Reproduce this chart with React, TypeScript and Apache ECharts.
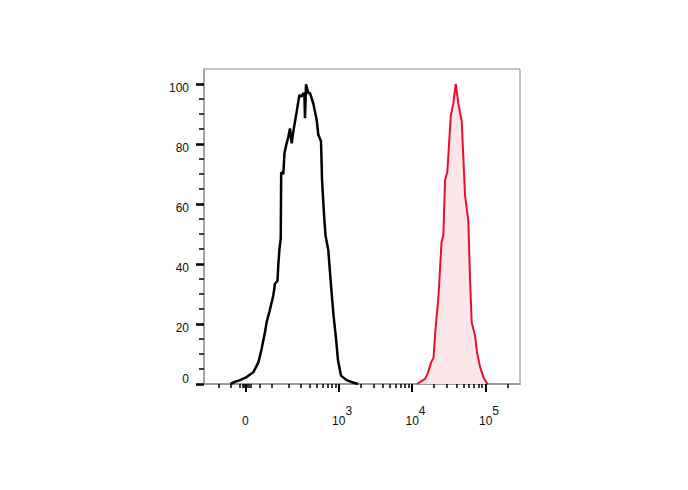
import React, { useEffect, useRef } from "react";
import * as echarts from "echarts";

// Biexponential display: value -> display decades
const BIEX_WIDTH = 54;
const toDisplay = (v: number) =>
  Math.log10(BIEX_WIDTH) + Math.asinh(v / (2 * BIEX_WIDTH)) / Math.LN10;

// x axis ticks in fluorescence units
const xMajorValues = [0, 1000, 10000, 100000];
const xMajorExponents: (number | null)[] = [null, 3, 4, 5];
const xMinorValues = [
  -100, -50, -20, -10, -5, 5, 10, 20, 50, 100, 200, 300, 400, 500, 600, 700, 800, 900,
  2000, 3000, 4000, 5000, 6000, 7000, 8000, 9000,
  20000, 30000, 40000, 50000, 60000, 70000, 80000, 90000, 200000,
];
const yMajorValues = [0, 20, 40, 60, 80, 100];
const yMinorValues = [5, 10, 15, 25, 30, 35, 45, 50, 55, 65, 70, 75, 85, 90, 95];

// Histograms: x in display decades, y in % of max
const blackX = [
  1.53, 1.59, 1.66, 1.75, 1.84, 1.91, 1.955, 2.0, 2.023, 2.059, 2.113, 2.136,
  2.17, 2.181, 2.195, 2.214, 2.22, 2.249, 2.265, 2.295, 2.317, 2.34, 2.363,
  2.385, 2.431, 2.467, 2.499, 2.521, 2.536, 2.544, 2.558, 2.589, 2.612, 2.657,
  2.703, 2.725, 2.762, 2.776, 2.803, 2.823, 2.861, 2.898, 2.932, 2.966, 2.993,
  3.034, 3.109, 3.197, 3.265,
];
const blackY = [
  0, 0.7, 1.3, 2.3, 3.9, 7.2, 11.8, 17.3, 20.7, 24.0, 29.5, 33.5, 34.4, 39.6,
  44.6, 48.5, 70.6, 70.0, 77.0, 80.3, 82.3, 85.2, 80.2, 84.1, 90.8, 96.3, 95.8,
  97.0, 96.0, 88.6, 99.9, 96.9, 97.0, 93.5, 88.0, 83.1, 80.9, 67.9, 56.3, 49.6,
  44.6, 32.9, 22.9, 15.2, 7.8, 2.8, 1.3, 0.5, 0,
];
const redX = [
  4.068, 4.109, 4.177, 4.218, 4.259, 4.293, 4.32, 4.361, 4.401, 4.426, 4.449,
  4.48, 4.527, 4.562, 4.595, 4.63, 4.676, 4.721, 4.766, 4.789, 4.812, 4.857,
  4.884, 4.925, 4.97, 5.016, 5.034,
];
const redY = [
  0, 0.6, 1.7, 3.8, 7.2, 8.8, 18.5, 29.5, 47.2, 49.6, 67.9, 70.6, 89.3, 93.6,
  100, 93.6, 87.6, 63.1, 54.3, 35.2, 20.5, 16.2, 10.5, 5.8, 2.3, 0.3, 0,
];

const X_MIN = 1.17;
const X_MAX = 5.469;
const FONT = "'Liberation Sans', Arial, sans-serif";

export default function App() {
  const ref = useRef<HTMLDivElement>(null);
  useEffect(() => {
    if (!ref.current) return;
    const chart = echarts.init(ref.current, undefined, { renderer: "svg" });
    const majorDisp = xMajorValues.map(toDisplay);
    const minorDisp = xMinorValues.map(toDisplay).filter((d) => d > X_MIN && d < X_MAX);
    chart.setOption({
      animation: false,
      backgroundColor: "#ffffff",
      grid: {
        left: 204,
        right: 168,
        top: 69,
        bottom: 106,
        show: true,
        borderColor: "#8a8a8a",
        borderWidth: 1,
      },
      xAxis: [
        {
          type: "value",
          min: X_MIN,
          max: X_MAX,
          position: "bottom",
          offset: 0,
          splitLine: { show: false },
          axisLine: { show: true, onZero: false, lineStyle: { color: "#9a9a9a", width: 2 } },
          axisTick: {
            show: true,
            customValues: majorDisp,
            length: 8,
            lineStyle: { color: "#000", width: 2 },
          },
          axisLabel: {
            show: true,
            customValues: majorDisp,
            margin: 26,
            color: "#111",
            fontFamily: FONT,
            formatter: (val: number) => {
              const i = majorDisp.findIndex((d) => Math.abs(d - val) < 1e-6);
              const e = i >= 0 ? xMajorExponents[i] : null;
              if (e === null) return "{b|0}";
              return "{s|}{b|10}{sup|" + e + "}";
            },
            rich: {
              s: { width: 7, height: 12 },
              b: { fontSize: 12, lineHeight: 12, padding: [10, 0, 0, 0], fontFamily: FONT, color: "#111" },
              sup: { fontSize: 12, lineHeight: 12, padding: [0, 0, 10, 0], fontFamily: FONT, color: "#111" },
            },
          },
        },
        {
          type: "value",
          min: X_MIN,
          max: X_MAX,
          position: "bottom",
          offset: 0,
          splitLine: { show: false },
          axisLine: { show: false, onZero: false },
          axisTick: {
            show: true,
            customValues: minorDisp,
            length: 4,
            lineStyle: { color: "#000", width: 1.5 },
          },
          axisLabel: { show: false },
        },
      ],
      yAxis: [
        {
          type: "value",
          min: 0,
          max: 105,
          position: "left",
          offset: 0,
          splitLine: { show: false },
          axisLine: { show: true, onZero: false, lineStyle: { color: "#999", width: 1.5 } },
          axisTick: {
            show: true,
            customValues: yMajorValues,
            length: 8,
            lineStyle: { color: "#000", width: 2.5 },
          },
          axisLabel: {
            show: true,
            customValues: yMajorValues,
            margin: 15,
            fontFamily: FONT,
            formatter: (v: number) => (v === 0 ? "{z|0}" : "{n|" + v + "}"),
            rich: {
              n: { fontSize: 12, lineHeight: 12, padding: [8, 0, 0, 0], fontFamily: FONT, color: "#111" },
              z: { fontSize: 12, lineHeight: 12, padding: [0, 0, 10, 0], fontFamily: FONT, color: "#111" },
            },
          },
        },
        {
          type: "value",
          min: 0,
          max: 105,
          position: "left",
          offset: 0,
          splitLine: { show: false },
          axisLine: { show: false, onZero: false },
          axisTick: {
            show: true,
            customValues: yMinorValues,
            length: 5,
            lineStyle: { color: "#000", width: 1.5 },
          },
          axisLabel: { show: false },
        },
      ],
      series: [
        {
          type: "line",
          name: "control",
          xAxisIndex: 0,
          yAxisIndex: 0,
          data: blackX.map((x, i) => [x, blackY[i]]),
          showSymbol: false,
          symbol: "none",
          lineStyle: { color: "#000", width: 2.5 },
          z: 3,
        },
        {
          type: "line",
          name: "stained",
          xAxisIndex: 0,
          yAxisIndex: 0,
          data: redX.map((x, i) => [x, redY[i]]),
          showSymbol: false,
          symbol: "none",
          lineStyle: { color: "#e8102c", width: 2 },
          areaStyle: { color: "#fde6e9", opacity: 1 },
          z: 3,
        },
      ],
    });
    return () => chart.dispose();
  }, []);
  return (
    <div
      ref={ref}
      style={{ position: "fixed", left: 0, top: 0, width: 688, height: 490, background: "#fff" }}
    />
  );
}
